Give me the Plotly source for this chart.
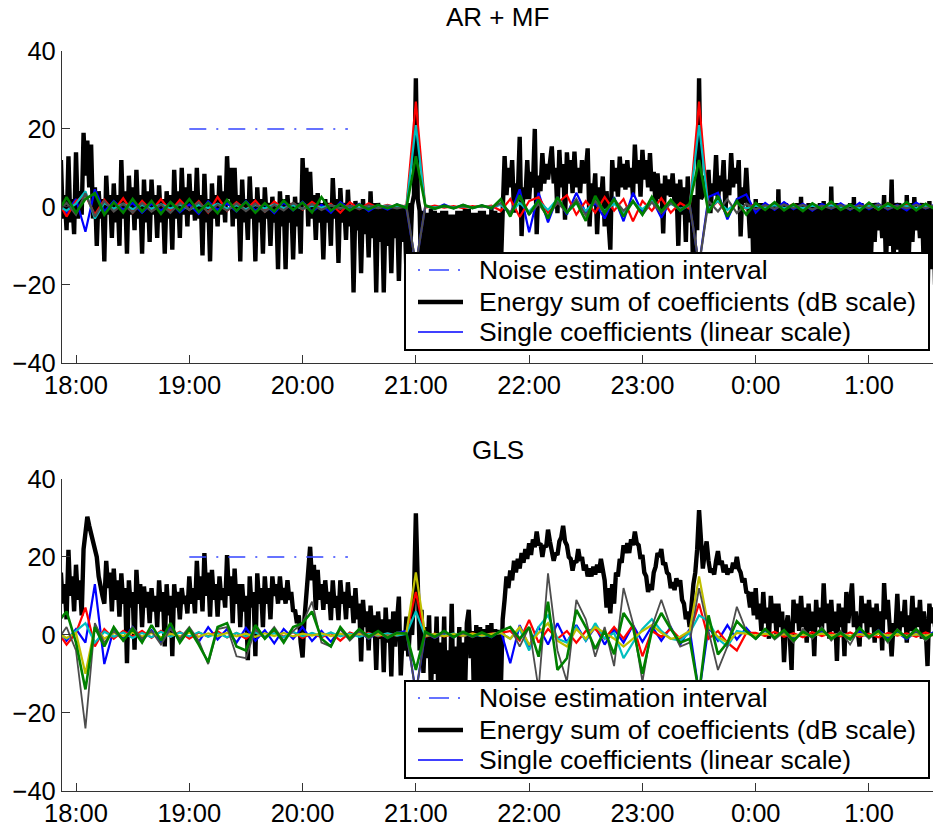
import pandas as pd
import plotly.graph_objects as go

# ---------------- data ----------------
ENERGY_START = "2000-01-01 17:52"   # 1-minute grid
COEF_START = "2000-01-01 17:50"     # 5-minute grid

# AR + MF : energy sum of coefficients (dB)
armf_energy = [
    12, -3, 3, -6, 13, -4, 2, -7, 14, -3, 4, -2, 19, 8, 17, 5, 16, -3, 5, -10,
    4, -3, 2, -14, 8, -2, 3, -8, 6, -4, 3, -10, 12, -3, 4, -12, 8, -2, 5, -6,
    9.5, -3, 3, -12, 7, -4, 4, -9, 7, -2, 3, -8, 5.5, -4, 2, -12, 4, -3, 3, -11,
    9.5, -3, 4, -8, 10, -2, 5, -5, 8.5, -2, 4, -3.5, 10, -3, 3, -12.5, 8.5, -4, 2, -14,
    6, -3, 3, -5, 8, -2, 4, -4, 13, 2, 10, -5, 10, -3, 3, -14, 7, -4, 2, -8.5,
    7.8, -3, 2, -14, 5, -4, 2, -12, 5, -3, 1, -10, 2.6, -4, 1, -16, 4, -5, 2, -16,
    3, -4, 1, -13.5, 2.6, -5, 1, -12, 12.5, 1, 10, -5, 9, -3, 3, -8.5, 3.5, -4, 1, -13.5,
    2, -4, 1, -10, 7.4, -3, 2, -14.4, 4.8, -4, 1, -8.5, 4.4, -5, 0.5, -22, 1.5, -6, 0, -17,
    2, -7, 0.5, -13, 4, -8, 1, -22, 1, -9, 0, -22, 0.5, -10, 0, -17, 0, -8, 0.5, -19,
    0.5, -9, 0, -17, 1, -12, 0.5, 3, 33, 2, -1, -20, -1, -15, -1.5, -20, -0.5, -18, -1, -24,
    -1.5, -16, -1, -18, -1, -17, -2, -22, -2, -15, -1, -25, -1, -18, -0.5, -19, -0.5, -16, -1.5, -23,
    -1.5, -17, -1, -20, -1, -15, -2, -24, -0.5, -18, -1, -21, -1.5, -16, -1, 13, 3, 10, 5, 12,
    -1.5, 6, 3, 18, -7.5, 5, 2, 12, 2, 9, 5, 20, -7, 8, 4, 13.8, 6, 11, 7, 13,
    15.5, 6, 10, -1.6, 14.6, 5, 11, -3.3, 14, 6, 12, 3.5, 14.2, 5, 10, 3.5, 12, 6, 9, 15,
    -5, 6, 2, 8.6, -7, 5, 1, 7.8, -5, 4, -2, -11, 12, 4, 10, 2.6, 12.9, 5, 11, 4.4,
    12, 5, 10, 2.6, 16, 6, 12, 2.6, 14.6, 7, 12, 5, 13.8, 4, 9, 0, 8.6, 2, 6, -6.8,
    8, 3, 7, 2.6, 8.6, 1, 6, -10, 7, -2, 5, -9, 7.8, -4, 3, -20, 3, -6, 33, 2,
    3, 8, 4, 9.5, -1.6, 6, 3, 13.3, 1, 8, 4, 12, -0.8, 7, 3, 13.8, 5, 10, 6, 12,
    -7.6, 5, 1, 10, 1, -8, 0.5, -20, 2, -14, 1, -22, 1, -16, 0, -18, 0.5, -15, 1, -24,
    4.5, -16, 0.5, -20, 1, -15, 0, -23, 0.5, -17, 1, -19, 2.6, -14, 0.5, -21, 1, -16, 0, -25,
    0.5, -15, 1, -20, 1.5, -17, 0, -22, 5.2, -14, 1, -18, 1, -16, 0.5, -24, 0.5, -15, 1, -20,
    2.5, -16, 0.5, -22, 1, -15, 0, -19, 0.5, -14, 1, -9, 1, -6, 0, -8, 3, -15, 1, -10,
    7, -14, 1, -11, 1, -16, 0.5, -22, 3, -14, 1, -9, 2.5, -6, 0, -8, 1, -15, 0.5, -24,
    1.5, -16, 0, -20,
]

# GLS : energy sum of coefficients (dB)
gls_energy = [
    16, 8, 13, 4, 21.8, 10, 15, 6, 18, 9, 14, 5, 22, 27, 30.3, 28, 26, 24, 22, 20,
    15, 12, 10, 8, 19, 12, 16, 6, 17, 9, 14, 4.7, 15.8, 8, 12, -7.3, 14, 7, 11, -3.8,
    16.7, 8, 13, 2, 12.4, 7, 11, 3, 12, 6, 10, 2, 14, 6, 11, -3, 13, 5, 10, -5.5,
    13, 7, 11, 4, 12, 8, 10, 5.5, 15, 8, 12, 5.5, 19, 9, 15, 6, 21, 10, 16, 4.7,
    16.7, 9, 13, 4.7, 15, 9, 12, 7, 20.5, 10, 15, 3, 17, 8, 13, 2, 13, 6, 10, -6.5,
    15, 7, 11, -5.5, 15.8, 8, 12, 2, 15, 8, 12, 4, 15, 10, 13, 8, 15, 9, 12, 8,
    14, 9, 11, 6, 6.4, 3, 5, -2, -5.8, 4, 10, 16, 22.6, 14, 18, 6.4, 16.7, 9, 13, 6.4,
    14, 8, 11, 3.8, 14, 7, 10, 3.8, 14, 8, 11, 4, 13.5, 7, 10, 3, 12, 4, 8, -6.8,
    9, 2, 6, -4, 7.5, 0, 5, -9, 6, -1, 4, -9.6, 7, -2, 4, -10.7, 6, -3, 2, 9.8,
    -10.4, 0, -4, 4.7, -5.5, 3, 0, 10, 31.2, 8, -4, 6.4, -9.8, 2, -6, 5, -15, 0, -10, 4.7,
    -18, -2, -12, 4.7, -20, -4, -14, 8, -18, -3, -15, 2, -20, -2, -16, 3, 6.4, -6, 1, -22,
    2.5, -16, 2, -20, 1.5, -18, 2.5, -24, 3, -15, 1.5, -20, 1.3, -14, 4, 9, 15, 12, 16.5, 14,
    19, 16, 19.5, 17, 21, 18.5, 22, 19.5, 23.5, 20.5, 24.5, 22.5, 26.5, 23, 23.5, 20, 23, 22.5, 27, 24,
    22, 19, 21, 20.5, 24, 25, 28, 24, 23, 20, 19.5, 16.5, 19, 18.5, 22, 19, 20, 16.5, 18, 15,
    17, 15, 17.5, 15.5, 18, 16, 19.5, 16, 14, 7, 12, 5.5, 13, 8, 16, 15, 19.5, 18.5, 23, 21,
    23.5, 21, 24.5, 23, 26.5, 23.5, 23, 19.5, 20.5, 16, 15, 11, 13, 11.5, 16, 17.5, 21, 20, 22, 18,
    18.5, 16, 15.5, 12, 13.5, 11.5, 14.5, 12.5, 14, 9, 8, 4, 6, 2, 9, 13, 16, 22, 32, 22,
    17, 21, 24, 19, 16, 17, 15.5, 19, 21.5, 18, 19, 16, 18, 15.5, 17, 16, 18.5, 17, 20, 17,
    16, 13.5, 14.5, 11, 10.7, 7, 11, 5, 12, 4, 8, 1, 11, 3, 7, -1, 10, 3, 8, 0,
    8, 2, 6, -7, 2, 5, 0, -9, 9, 3, 8, 1, 10, 2, 7, -2, 8, 1, 6, -5.5,
    9, 2, 7, 0, 13.2, 3, 8, -1, 9, 1, 6, -6.7, 8, 2, 7, -5.5, 11, 3, 7, 13.2,
    2, 6, 1, -3, 10, 3, 8, 0, 9, 2, 7, -2, 8, 1, 6, -4, 13.3, 4, 9, 2,
    -5.5, 3, 1, 10.5, 0, 6, 2, 9, -2, 5, 1, 10, 0, 7, 2, 9, -1, 6, 2, -8,
    8, 3, 7, 2,
]

# AR + MF : single coefficients (linear)
armf_blue = [
    1.2, -1.5, 2, -6.4, 4.5, -1.2, 1.5, -0.8, 1, -1.5,
    0.8, -1, 1.2, -1.4, 0.6, -1.8, 1.4, -0.8, 0.9, -1.2,
    1.5, -1, 0.7, -1.6, 1.1, -0.9, 1.3, -1.2, 0.5, -1.5,
    1.2, -0.6, 0.8, -1.1, 0.4, -0.7, 0.6, -0.3,
    -15,
    0.3, -0.5, 0.6, -0.4, 0.5, -0.3, 0.4, -0.5,
    0.8, -2, 4.5, -6.5, 3.6, -4, 2.5, -2, 3.6, -1.5,
    1, -3, 2.5, -3.7, 3.6, -1.5, 2, -2.8, 1.5, -1, 0.5,
    -15,
    2.5, 3.6, -3.2, 2, 3.2,
    -1.5, 1, -0.8, 1.2, -0.6, 0.8, -1, 0.7, -0.5, 0.9,
    -0.8, 1, -0.6, 0.8, -0.7, 0.5, -0.9, 1.1, -0.4, 0.6,
]
armf_red = [
    2, -2.5, 1.5, 3, -2, 1.8, -1, 2.2, -1.5, 1.5,
    -1, 2, -1.2, 1.8, -0.8, 1.5, -1.5, 2.5, -1, 1.2,
    -0.8, 1.6, -1.2, 1.4, -0.5, 1, -0.7, 1.3, -0.4, 0.8,
    -1.5, 1.2, -0.6, 0.9, -0.3, 0.5, -0.2, 0.4,
    27,
    -0.2, 0.3, -0.2, 0.2, -0.3, 0.2, -0.1, 0.3,
    -1, 2, -2.6, 1.5, 2.5, -1.5, 1, 3, -2, 1.5,
    -1.5, 2.5, -1, 2, -3.7, 1.5, -1, 2.2, -1.5, 1, -0.5,
    27,
    -1, 1.5, -2, 1, -0.5,
    0.8, -0.6, 1, -0.5, 0.7, -0.8, 0.5, -0.4, 0.9, -0.6,
    0.4, -0.5, 0.8, -0.7, 1, -0.4, 0.6, -0.5, 0.7, -0.3,
]
armf_cyan = [
    0.5, -1, 0.8, 4, -3, 1, -0.5, 0.8, -0.6, 0.5,
    -0.5, 0.7, -0.4, 0.6, -0.7, 0.5, -0.3, 0.8, -0.5, 0.4,
    -0.6, 0.5, -0.4, 0.6, -0.3, 0.4, -0.5, 0.3, -0.2, 0.4,
    -0.3, 0.2, -0.3, 0.2, -0.2, 0.3, -0.1, 0.2,
    21,
    0.1, -0.1, 0.2, -0.1, 0.1, -0.2, 0.1, 0,
    0.5, -1.5, 1, -1.2, 1.5, -0.8, 2, -1.5, 1, -1,
    1.5, -1, 0.8, -1.5, 1.2, -0.6, 1.6, -1.2, 0.8, -0.5, 0.3,
    21,
    -0.5, 1.5, -0.8, 1, -0.4,
    0.3, -0.2, 0.4, -0.3, 0.2, -0.3, 0.3, -0.2, 0.4, -0.2,
    0.3, -0.3, 0.2, -0.2, 0.3, -0.1, 0.2, -0.3, 0.2, -0.2,
]
armf_gray = [
    -1.5, 1, -2, 3.5, -2.5, 1.5, -1.2, 0.8, -1.5, 1,
    -1.2, 0.6, -1.5, 1, -0.8, 1.2, -1.4, 0.6, -1, 0.9,
    -1.1, 0.8, -1.3, 0.5, -0.9, 1, -0.6, 0.7, -0.8, 0.4,
    -0.5, 0.3, -0.6, 0.4, -0.3, 0.2, -0.4, 0.1,
    -15,
    0.2, -0.3, 0.1, -0.2, 0.2, -0.1, 0.2, -0.2,
    1, -1.5, 2.5, -2, 0.8, -2.5, 1.2, -1.5, 2, -2.2,
    1.5, -1.8, 2, -1, 1.4, -2, 1.2, -1.6, 1, -0.8, 0.6,
    -15,
    1.5, -1.2, 2, -1.6, 0.8,
    -0.6, 0.4, -0.5, 0.6, -0.3, 0.5, -0.7, 0.3, -0.4, 0.5,
    -0.6, 0.4, -0.3, 0.6, -0.5, 0.3, -0.4, 0.5, -0.3, 0.4,
]
armf_green = [
    -2, 2.5, -1.5, 2, 3.5, -2, 1.2, -1.5, 2, -1.2,
    1.5, -1.8, 1.2, -1, 2, -1.3, 1, -1.6, 1.8, -1,
    1.3, -1.5, 0.9, -1.2, 1.6, -0.8, 1.1, -1.4, 2.5, -1,
    0.8, -0.9, 0.6, -0.7, 0.5, -0.4, 0.6, -0.3,
    13,
    0.4, -0.5, 0.3, -0.4, 0.5, -0.3, 0.4, -0.4,
    2, -2.5, 3, -2, 1.8, -3, 2.5, -1.5, 1.2, -3.6,
    2.8, -1.5, 2, -2.5, 1.5, -2, 2.6, -1.2, 1.8, -1, 0.8,
    12,
    -1.5, 2.8, -2.5, 1.5, -2,
    1, -0.8, 1.2, -0.9, 0.7, -1.1, 0.9, -0.6, 1.3, -0.8,
    0.6, -1, 1.1, -0.7, 0.9, -0.5, 1.2, -0.9, 0.8, -0.6,
]

# GLS : single coefficients (linear)
gls_blue = [
    2, -1.5, 1.5, -2, 13, -7.5, 1.5, -1, 2, -1.5,
    1.2, -2, 1.8, -1.5, 1, -1.8, 2, -1.2, 1.5, -2,
    1.8, -1.5, 1.2, -2.2, 1.5, -1, 2, -1.6, 1, -1.8,
    1.5, -1.2, 0.8, -1, 0.6, -0.8, 0.5, 1,
    -15,
    0.6, -0.8, 0.5, -0.6, 0.7, -0.5, 0.4, -0.6,
    1, -7.3, 2.5, -3, 2, -2.5, 3, -2, 2.5, -1.5,
    2, -2.5, 1.5, -2, 2.5, -1.8, 2.2, -1.5, 2, -2.5, 1.5,
    -15,
    2, -1.5, 2.5, -1.2, 1.8,
    -1, 1.2, -0.8, 1, -1.2, 0.8, -0.6, 1.1, -0.9, 0.7,
    -1, 0.9, -0.7, 1.2, -0.8, 0.6, -1.1, 0.8, -0.5, 0.9,
]
gls_red = [
    1, -2.5, 0.5, 7, -3, 1.5, -1, 1, -0.5, 1,
    -0.8, 1, -0.5, 0.8, -1, 0.6, -0.4, 0.9, -0.7, 0.5,
    -1, 0.8, -0.6, 1, -0.5, 0.7, -0.8, 0.4, -0.6, 0.5,
    -1.5, 0.6, -0.3, 0.5, -0.4, 0.3, -0.2, 0.5,
    11,
    -0.5, 0.3, -0.4, 0.2, -0.3, 0.4, -0.2, 0.3,
    0.5, 1, -1.5, 3.8, -2, 1.5, -1, 1, -2, 1,
    1.5, -1, 2, -1, 2.5, -5.5, 1, -0.5, 1.5, -1, 0.5,
    8,
    -1, 1, -2, -4, 0.5,
    0.5, -0.3, 0.8, -0.5, 0.4, -0.6, 0.7, -0.3, 0.5, -0.4,
    0.6, -0.5, 0.3, -0.6, 0.5, -0.2, 0.4, -0.5, 0.6, -0.3,
]
gls_cyan = [
    0.5, -1, 1, 3, -2, 0.8, -0.5, 0.6, -0.8, 0.5,
    -0.6, 0.8, -0.5, 0.6, -0.4, 0.7, -0.5, 0.4, -0.6, 0.5,
    -0.4, 0.6, -0.5, 0.4, -0.6, 0.8, -0.4, 0.5, -0.3, 0.6,
    -0.4, 0.3, -0.5, 0.3, -0.2, 0.4, -0.2, 0.3,
    6,
    -0.3, 0.2, -0.2, 0.3, -0.2, 0.2, -0.3, 0.2,
    0.5, -1, 1.5, -4, 2, 5, -1, -2, 2, -1.5,
    3, -1, 0.5, -6, -2, 1.5, 4, 1, -1, -1.5, 0.5,
    5,
    3.5, -1, -3, 1, 0.5,
    -0.3, 0.4, -0.2, 0.3, -0.4, 0.2, -0.3, 0.4, -0.2, 0.3,
    -0.3, 0.2, -0.4, 0.3, -0.2, 0.3, -0.3, 0.2, -0.2, 0.3,
]
gls_yellow = [
    0.5, -0.8, 0.5, -10, 2, -1, 0.5, -0.3, 0.6, -0.4,
    0.5, -0.6, 0.3, -0.4, 0.6, -0.5, 0.4, -0.3, 0.5, -0.4,
    0.3, -0.5, 0.4, -0.3, 0.5, -0.4, 0.3, -0.2, 0.4, -0.3,
    0.3, -0.2, 0.3, -0.2, 0.2, -0.3, 0.2, 0.5,
    16,
    -0.2, 0.2, -0.3, 0.2, -0.2, 0.3, -0.2, 0.2,
    0.5, -1, 2, -2.5, 0.5, 3, -1.5, -3, 1.5, -1,
    2, 0.5, -1, -3, -1, 1, 2.5, 0.5, -1, -0.5, 1,
    15,
    2, -0.5, -2, 0.5, 0.3,
    -0.2, 0.3, -0.2, 0.2, -0.3, 0.2, -0.2, 0.3, -0.2, 0.2,
    -0.3, 0.2, -0.2, 0.3, -0.2, 0.2, -0.3, 0.2, -0.2, 0.2,
]
gls_gray = [
    -1.5, 2, -4, -24, 3, -2, 1, -1.5, 2, -1,
    1, -2.5, 1.5, -1, 2, -1.5, -7.5, 1.5, 2, -5.5,
    -6, 1.5, -1, 2, -1.5, 1, 3, 8.5, -2, -3,
    1.5, -1.5, 1, -1, 0.8, -0.5, 0.6, 0.5,
    -15,
    0.5, -0.8, 0.6, -0.5, 0.4, -0.6, 0.5, -0.4,
    1, 2, -3, 2, -14, 15.8, -4, -12, 9, 4,
    -5.6, 2, -8, 12, 3, -12, 2, 9, 2, -3, -2,
    12,
    1, -9, -3, 7.2, 1,
    -1, 1.5, -1.2, 0.8, -2, 1.5, -1, 2, -1.5, 1,
    -2.5, 1.8, -1, 1.2, -2, 1.5, -0.8, 1, -1.5, 0.8,
]
gls_green = [
    3, 6, -2, -14, 2, -3, 2, -1.5, 1.5, -2,
    2.5, -1.5, 3, -2, 1.5, -2.5, -7, 2, 3, -3,
    -4, 2.5, -1, 1.5, -2, 2, 3, 6, -1, -3,
    2, -1, 1.5, -0.5, 1, -0.8, 0.5, 0.3,
    -9,
    0.8, -0.5, 1, -0.6, 0.8, -0.4, 0.6, -0.5,
    1, 2, -1, 2, -5.6, 8.5, -9, -6, 6.4, 2,
    -3.6, 1, -5, 5.6, 2, -10, 1, 5.6, 1.5, -2, -1,
    -15,
    5, -5, -2, 3.5, 1,
    -1, 1.5, -0.8, 1.2, -1.5, 0.8, -0.5, 1.5, -1, 0.5,
    -1.2, 1.8, -0.6, 1, -1.5, 1.2, -0.8, 1.5, -1, 0.6,
]

noise_times = ["2000-01-01 19:00", "2000-01-01 20:24"]
noise_level = [20, 20]

x_range = ["2000-01-01 17:52:35", "2000-01-02 01:33:54"]
hour_ticks_start = "2000-01-01 18:00"
legend_labels = ["Noise estimation interval",
                 "Energy sum of coefficients (dB scale)",
                 "Single coefficients (linear scale)"]

for name, arr, n in [("armf_energy", armf_energy, 464), ("gls_energy", gls_energy, 464)]:
    assert len(arr) == n, (name, len(arr))
for name, arr in [("armf_blue", armf_blue), ("armf_red", armf_red), ("armf_cyan", armf_cyan),
                  ("armf_gray", armf_gray), ("armf_green", armf_green), ("gls_blue", gls_blue),
                  ("gls_red", gls_red), ("gls_cyan", gls_cyan), ("gls_yellow", gls_yellow),
                  ("gls_gray", gls_gray), ("gls_green", gls_green)]:
    assert len(arr) == 94, (name, len(arr))

t_energy = pd.date_range(ENERGY_START, periods=len(armf_energy), freq="1min")
t_coef = pd.date_range(COEF_START, periods=len(armf_blue), freq="5min")

# ---------------- styling ----------------
W, H = 933, 833
ML = 62
PW = W - ML
FONT = "Liberation Sans, Arial, Helvetica, sans-serif"
C = dict(blue="#0000ff", red="#ff0000", cyan="#00bfbf", yellow="#bfbf00",
         gray="#4d4d4d", green="#008000", black="#000000", noise="#3344ff")
NOISE_DASH = "17px,10px,2px,10px"
BLACK_W = 4.4


def px(xpix):
    return (xpix - ML) / PW


def py(ypix):
    return 1 - ypix / H


fig = go.Figure()


def add_panel(xa, ya, energy, coefs):
    fig.add_trace(go.Scatter(
        x=t_energy, y=energy, mode="lines", xaxis=xa, yaxis=ya, showlegend=False,
        name=legend_labels[1], line=dict(color=C["black"], width=BLACK_W), hoverinfo="skip"))
    for cname, vals, w in coefs:
        fig.add_trace(go.Scatter(
            x=t_coef, y=vals, mode="lines", xaxis=xa, yaxis=ya, showlegend=False,
            name=legend_labels[2], line=dict(color=C[cname], width=w), hoverinfo="skip"))
    fig.add_trace(go.Scatter(
        x=noise_times, y=noise_level, mode="lines", xaxis=xa, yaxis=ya, showlegend=False,
        name=legend_labels[0],
        line=dict(color=C["noise"], width=1.5, dash=NOISE_DASH), hoverinfo="skip"))


add_panel("x", "y", armf_energy,
          [("blue", armf_blue, 2.2), ("red", armf_red, 2.2), ("cyan", armf_cyan, 2.2),
           ("gray", armf_gray, 2.2), ("green", armf_green, 2.6)])
add_panel("x2", "y2", gls_energy,
          [("blue", gls_blue, 2.2), ("red", gls_red, 2.2), ("cyan", gls_cyan, 2.2),
           ("yellow", gls_yellow, 2.2), ("gray", gls_gray, 1.8), ("green", gls_green, 2.6)])

xcommon = dict(type="date", range=x_range, tick0=hour_ticks_start, dtick=3600000,
               tickformat="%-H:%M", ticks="inside", ticklen=8, tickwidth=1.3,
               tickcolor="#333333", showline=True, linecolor="#333333", linewidth=1.3,
               showgrid=False, zeroline=False, automargin=False,
               tickfont=dict(size=25.5, color="black", family=FONT), domain=[0, 1])
ycommon = dict(range=[-40, 40], tickvals=[-40, -20, 0, 20, 40], ticks="inside", ticklen=8,
               tickwidth=1.3, tickcolor="#333333", showline=True, linecolor="#333333",
               linewidth=1.3, showgrid=False, zeroline=False, automargin=False,
               tickfont=dict(size=25.5, color="black", family=FONT))

# legend boxes drawn as layout decorations (pixel positions of the reference)
shapes = []
annotations = []
for top in (253, 681):
    rows = [top + 17, top + 49, top + 79]
    shapes.append(dict(type="rect", xref="paper", yref="paper", layer="above",
                       x0=px(405), x1=px(929), y0=py(top), y1=py(top + 97),
                       line=dict(color="black", width=2), fillcolor="white"))
    styles = [dict(color=C["noise"], width=1.5, dash="2px,9px,20px,9px,2px,20px"),
              dict(color=C["black"], width=BLACK_W),
              dict(color=C["blue"], width=1.4)]
    for r, st, lab in zip(rows, styles, legend_labels):
        shapes.append(dict(type="line", xref="paper", yref="paper", layer="above",
                           x0=px(418), x1=px(463), y0=py(r), y1=py(r), line=st))
        annotations.append(dict(text=lab, x=px(477), y=py(r), xref="paper", yref="paper",
                                xanchor="left", yanchor="middle", showarrow=False,
                                font=dict(size=26.5, family=FONT, color="black")))

annotations += [
    dict(text="AR + MF", x=0.5, y=py(17), xref="paper", yref="paper",
         xanchor="center", yanchor="middle", showarrow=False,
         font=dict(size=26, family=FONT, color="black")),
    dict(text="GLS", x=0.5, y=py(450), xref="paper", yref="paper",
         xanchor="center", yanchor="middle", showarrow=False,
         font=dict(size=26, family=FONT, color="black")),
]

fig.update_layout(
    width=W, height=H, plot_bgcolor="white", paper_bgcolor="white",
    margin=dict(l=ML, r=0, t=0, b=0, autoexpand=False),
    font=dict(family=FONT, size=25, color="black"),
    showlegend=False,
    xaxis=dict(**xcommon, anchor="y"),
    yaxis=dict(**ycommon, domain=[py(362.7), py(51)], anchor="x"),
    xaxis2=dict(**xcommon, anchor="y2"),
    yaxis2=dict(**ycommon, domain=[py(790.7), py(479)], anchor="x2"),
    shapes=shapes,
    annotations=annotations,
)

fig.write_html("out.html")
